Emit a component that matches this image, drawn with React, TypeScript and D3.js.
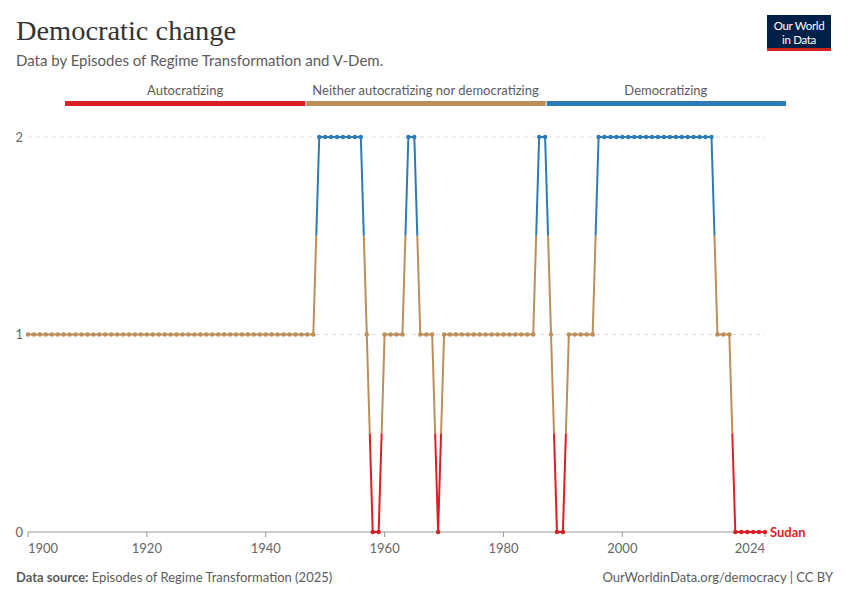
import * as d3 from "d3";

// Democratic change in Sudan: 0 = autocratizing, 1 = neither, 2 = democratizing
const years = d3.range(1900, 2025);
const values = [
  // 1900-1909
  1, 1, 1, 1, 1, 1, 1, 1, 1, 1,
  // 1910-1919
  1, 1, 1, 1, 1, 1, 1, 1, 1, 1,
  // 1920-1929
  1, 1, 1, 1, 1, 1, 1, 1, 1, 1,
  // 1930-1939
  1, 1, 1, 1, 1, 1, 1, 1, 1, 1,
  // 1940-1949
  1, 1, 1, 1, 1, 1, 1, 1, 1, 2,
  // 1950-1959
  2, 2, 2, 2, 2, 2, 2, 1, 0, 0,
  // 1960-1969
  1, 1, 1, 1, 2, 2, 1, 1, 1, 0,
  // 1970-1979
  1, 1, 1, 1, 1, 1, 1, 1, 1, 1,
  // 1980-1989
  1, 1, 1, 1, 1, 1, 2, 2, 1, 0,
  // 1990-1999
  0, 1, 1, 1, 1, 1, 2, 2, 2, 2,
  // 2000-2009
  2, 2, 2, 2, 2, 2, 2, 2, 2, 2,
  // 2010-2019
  2, 2, 2, 2, 2, 2, 1, 1, 1, 0,
  // 2020-2024
  0, 0, 0, 0, 0,
];

const categories = ["Autocratizing", "Neither autocratizing nor democratizing", "Democratizing"];
const colors = ["#db1f26", "#bc8e5a", "#2c7bb6"];
const xTicks = [1900, 1920, 1940, 1960, 1980, 2000, 2024];
const yTicks = [0, 1, 2];
const entity = "Sudan";

const data = years.map((year, i) => ({ year, value: values[i] }));

const width = 850;
const height = 600;
const left = 28;
const right = 765;

export default function App() {
  const x = d3.scaleLinear().domain([1900, 2024]).range([left, right]);
  const y = d3.scaleLinear().domain([0, 2]).range([532, 137]);
  const line = d3
    .line<{ year: number; value: number }>()
    .x((d) => x(d.year))
    .y((d) => y(d.value));
  const path = line(data) || "";

  // bands of the y range that get each colour
  const bands = [
    { y0: y(0.5), y1: height, color: colors[0] },
    { y0: y(1.5), y1: y(0.5), color: colors[1] },
    { y0: 0, y1: y(1.5), color: colors[2] },
  ];

  const legend = d3.scaleBand<number>().domain([0, 1, 2]).range([65, 786]);
  const font = "Lato, 'Noto Sans', sans-serif";

  return (
    <svg
      width={width}
      height={height}
      style={{ position: "absolute", left: 0, top: 0, background: "#fff" }}
      fontFamily={font}
    >
      <defs>
        {bands.map((b, i) => (
          <clipPath id={`band${i}`} key={i}>
            <rect x={0} y={b.y0} width={width} height={b.y1 - b.y0} />
          </clipPath>
        ))}
      </defs>

      {/* header */}
      <text x={16} y={40} fontFamily="'Liberation Serif', 'DejaVu Serif', serif" fontSize={27} fill="#333" textLength={220} lengthAdjust="spacingAndGlyphs">
        Democratic change
      </text>
      <text x={16} y={66} fontSize={15} fill="#5b5b5b">
        Data by Episodes of Regime Transformation and V-Dem.
      </text>

      {/* logo */}
      <rect x={767} y={15} width={64} height={34} fill="#002147" />
      <rect x={767} y={48} width={64} height={3} fill="#ce261e" />
      <text x={799} y={30} textAnchor="middle" fontSize={11.5} fill="#fff" letterSpacing={-0.3}>
        Our World
      </text>
      <text x={799} y={44} textAnchor="middle" fontSize={11.5} fill="#fff" letterSpacing={-0.3}>
        in Data
      </text>

      {/* legend */}
      {categories.map((c, i) => (
        <g key={c}>
          <rect
            x={(legend(i) || 0) + (i > 0 ? 1 : 0)}
            y={101}
            width={legend.bandwidth() - (i > 0 ? 1 : 0)}
            height={5}
            fill={colors[i]}
          />
          <text x={(legend(i) || 0) + legend.bandwidth() / 2} y={95} textAnchor="middle" fontSize={13} fill="#5b5b5b">
            {c}
          </text>
        </g>
      ))}

      {/* grid */}
      {yTicks.map((t) => (
        <g key={t}>
          {t > 0 && (
            <line x1={left} x2={right} y1={y(t)} y2={y(t)} stroke="#ddd" strokeDasharray="4,4" />
          )}
          <text x={23} y={y(t)} dy="0.35em" textAnchor="end" fontSize={13} fill="#666">
            {t}
          </text>
        </g>
      ))}
      <line x1={left} x2={right} y1={y(0)} y2={y(0)} stroke="#999" />
      {xTicks.map((t, i) => (
        <g key={t}>
          <line x1={x(t)} x2={x(t)} y1={y(0)} y2={y(0) + 5} stroke="#999" />
          <text
            x={x(t)}
            y={y(0) + 21}
            textAnchor={i === 0 ? "start" : i === xTicks.length - 1 ? "end" : "middle"}
            fontSize={13}
            fill="#666"
          >
            {t}
          </text>
        </g>
      ))}

      {/* line, coloured by band */}
      {bands.map((b, i) => (
        <g key={i} clipPath={`url(#band${i})`}>
          <path d={path} fill="none" stroke={b.color} strokeWidth={2} strokeLinejoin="round" />
        </g>
      ))}
      {data.map((d) => (
        <circle key={d.year} cx={x(d.year)} cy={y(d.value)} r={2.2} fill={colors[d.value]} />
      ))}
      <text x={770} y={y(0)} dy="0.35em" fontSize={13} fontWeight={700} fill={colors[0]}>
        {entity}
      </text>

      {/* footer */}
      <text x={16} y={582} fontSize={13} fill="#5b5b5b">
        <tspan fontWeight={700}>Data source:</tspan> Episodes of Regime Transformation (2025)
      </text>
      <text x={833} y={582} textAnchor="end" fontSize={13} fill="#5b5b5b">
        OurWorldinData.org/democracy | CC BY
      </text>
    </svg>
  );
}
